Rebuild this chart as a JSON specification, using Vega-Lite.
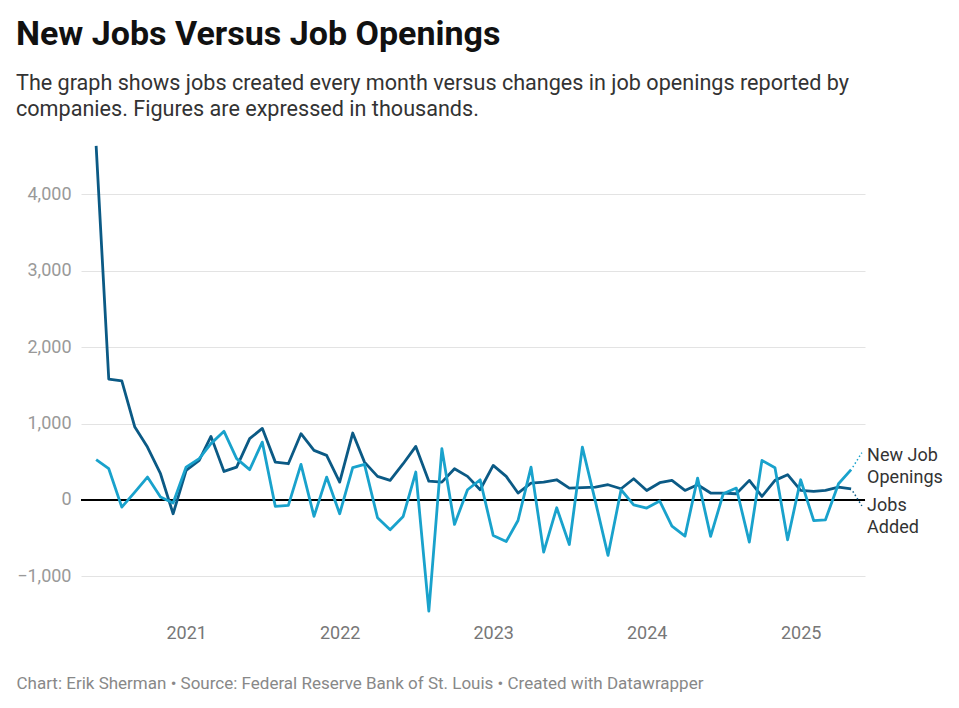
{
  "$schema": "https://vega.github.io/schema/vega-lite/v6.json",
  "width": 784,
  "height": 475,
  "autosize": {"type": "none"},
  "padding": {"left": 81, "top": 141, "right": 94, "bottom": 92},
  "background": "white",
  "title": {
    "text": "New Jobs Versus Job Openings",
    "subtitle": ["The graph shows jobs created every month versus changes in job openings reported by", "companies. Figures are expressed in thousands."],
    "anchor": "start",
    "frame": "group",
    "dx": -65,
    "offset": 20,
    "font": "Roboto",
    "fontSize": 34,
    "fontWeight": 700,
    "color": "#111111",
    "subtitleFont": "Roboto",
    "subtitleFontSize": 21.6,
    "subtitleColor": "#333333",
    "subtitleLineHeight": 26,
    "subtitlePadding": 21
  },
  "config": {"view": {"stroke": null}, "font": "Roboto"},
  "data": {
    "format": {"parse": {"date": "date"}},
    "values": [
      {"date": "2020-06-01", "Jobs Added": 4637, "New Job Openings": 527},
      {"date": "2020-07-01", "Jobs Added": 1583, "New Job Openings": 409},
      {"date": "2020-08-01", "Jobs Added": 1560, "New Job Openings": -94},
      {"date": "2020-09-01", "Jobs Added": 954, "New Job Openings": 102},
      {"date": "2020-10-01", "Jobs Added": 692, "New Job Openings": 299},
      {"date": "2020-11-01", "Jobs Added": 343, "New Job Openings": 37},
      {"date": "2020-12-01", "Jobs Added": -181, "New Job Openings": -40},
      {"date": "2021-01-01", "Jobs Added": 386, "New Job Openings": 430},
      {"date": "2021-02-01", "Jobs Added": 518, "New Job Openings": 540},
      {"date": "2021-03-01", "Jobs Added": 832, "New Job Openings": 737},
      {"date": "2021-04-01", "Jobs Added": 373, "New Job Openings": 898},
      {"date": "2021-05-01", "Jobs Added": 430, "New Job Openings": 540},
      {"date": "2021-06-01", "Jobs Added": 802, "New Job Openings": 396},
      {"date": "2021-07-01", "Jobs Added": 937, "New Job Openings": 757},
      {"date": "2021-08-01", "Jobs Added": 495, "New Job Openings": -85},
      {"date": "2021-09-01", "Jobs Added": 474, "New Job Openings": -72},
      {"date": "2021-10-01", "Jobs Added": 867, "New Job Openings": 465},
      {"date": "2021-11-01", "Jobs Added": 649, "New Job Openings": -216},
      {"date": "2021-12-01", "Jobs Added": 583, "New Job Openings": 299},
      {"date": "2022-01-01", "Jobs Added": 233, "New Job Openings": -181},
      {"date": "2022-02-01", "Jobs Added": 876, "New Job Openings": 422},
      {"date": "2022-03-01", "Jobs Added": 495, "New Job Openings": 465},
      {"date": "2022-04-01", "Jobs Added": 308, "New Job Openings": -233},
      {"date": "2022-05-01", "Jobs Added": 256, "New Job Openings": -391},
      {"date": "2022-06-01", "Jobs Added": 474, "New Job Openings": -216},
      {"date": "2022-07-01", "Jobs Added": 701, "New Job Openings": 365},
      {"date": "2022-08-01", "Jobs Added": 246, "New Job Openings": -1457},
      {"date": "2022-09-01", "Jobs Added": 233, "New Job Openings": 671},
      {"date": "2022-10-01", "Jobs Added": 409, "New Job Openings": -321},
      {"date": "2022-11-01", "Jobs Added": 308, "New Job Openings": 133},
      {"date": "2022-12-01", "Jobs Added": 133, "New Job Openings": 264},
      {"date": "2023-01-01", "Jobs Added": 452, "New Job Openings": -465},
      {"date": "2023-02-01", "Jobs Added": 308, "New Job Openings": -544},
      {"date": "2023-03-01", "Jobs Added": 90, "New Job Openings": -269},
      {"date": "2023-04-01", "Jobs Added": 221, "New Job Openings": 430},
      {"date": "2023-05-01", "Jobs Added": 233, "New Job Openings": -684},
      {"date": "2023-06-01", "Jobs Added": 264, "New Job Openings": -103},
      {"date": "2023-07-01", "Jobs Added": 155, "New Job Openings": -583},
      {"date": "2023-08-01", "Jobs Added": 160, "New Job Openings": 692},
      {"date": "2023-09-01", "Jobs Added": 168, "New Job Openings": -20},
      {"date": "2023-10-01", "Jobs Added": 199, "New Job Openings": -727},
      {"date": "2023-11-01", "Jobs Added": 146, "New Job Openings": 133},
      {"date": "2023-12-01", "Jobs Added": 277, "New Job Openings": -65},
      {"date": "2024-01-01", "Jobs Added": 124, "New Job Openings": -107},
      {"date": "2024-02-01", "Jobs Added": 225, "New Job Openings": -15},
      {"date": "2024-03-01", "Jobs Added": 256, "New Job Openings": -343},
      {"date": "2024-04-01", "Jobs Added": 124, "New Job Openings": -474},
      {"date": "2024-05-01", "Jobs Added": 199, "New Job Openings": 286},
      {"date": "2024-06-01", "Jobs Added": 90, "New Job Openings": -478},
      {"date": "2024-07-01", "Jobs Added": 90, "New Job Openings": 81},
      {"date": "2024-08-01", "Jobs Added": 81, "New Job Openings": 155},
      {"date": "2024-09-01", "Jobs Added": 256, "New Job Openings": -553},
      {"date": "2024-10-01", "Jobs Added": 46, "New Job Openings": 518},
      {"date": "2024-11-01", "Jobs Added": 256, "New Job Openings": 422},
      {"date": "2024-12-01", "Jobs Added": 330, "New Job Openings": -522},
      {"date": "2025-01-01", "Jobs Added": 124, "New Job Openings": 264},
      {"date": "2025-02-01", "Jobs Added": 111, "New Job Openings": -270},
      {"date": "2025-03-01", "Jobs Added": 124, "New Job Openings": -260},
      {"date": "2025-04-01", "Jobs Added": 168, "New Job Openings": 212},
      {"date": "2025-05-01", "Jobs Added": 146, "New Job Openings": 396}
    ]
  },
  "transform": [{"fold": ["Jobs Added", "New Job Openings"], "as": ["series", "value"]}],
  "encoding": {
    "x": {
      "field": "date",
      "type": "temporal",
      "scale": {"type": "utc", "domain": [{"year": 2020, "month": 4, "date": 26, "utc": true}, {"year": 2025, "month": 6, "date": 3, "utc": true}]},
      "axis": {
        "values": [{"year": 2021, "month": 1, "date": 1, "utc": true}, {"year": 2022, "month": 1, "date": 1, "utc": true}, {"year": 2023, "month": 1, "date": 1, "utc": true}, {"year": 2024, "month": 1, "date": 1, "utc": true}, {"year": 2025, "month": 1, "date": 1, "utc": true}],
        "format": "%Y",
        "formatType": "utc",
        "grid": false,
        "domain": false,
        "ticks": false,
        "labelFont": "Roboto",
        "labelFontSize": 18,
        "labelColor": "#777777",
        "labelPadding": 8,
        "title": "Chart: Erik Sherman • Source: Federal Reserve Bank of St. Louis • Created with Datawrapper",
        "titleFont": "Roboto",
        "titleFontSize": 17,
        "titleFontWeight": "normal",
        "titleColor": "#888888",
        "titleAlign": "left",
        "titleAnchor": "start",
        "titleBaseline": "middle",
        "titleX": -65,
        "titleY": 67
      }
    },
    "y": {
      "field": "value",
      "type": "quantitative",
      "scale": {"domain": [-1520, 4700], "nice": false, "zero": false},
      "axis": {
        "values": [-1000, 0, 1000, 2000, 3000, 4000],
        "format": ",.0f",
        "domain": false,
        "ticks": false,
        "grid": true,
        "gridColor": "#e3e3e3",
        "gridWidth": 1,
        "labelFont": "Roboto",
        "labelFontSize": 18,
        "labelColor": "#999999",
        "labelPadding": 10,
        "title": null
      }
    }
  },
  "layer": [
    {
      "mark": {"type": "rule", "color": "#000000", "strokeWidth": 1.2},
      "encoding": {"y": {"datum": 0}, "x": null}
    },
    {
      "mark": {"type": "line", "strokeWidth": 2.8, "strokeJoin": "round"},
      "encoding": {
        "color": {
          "field": "series",
          "type": "nominal",
          "scale": {"domain": ["Jobs Added", "New Job Openings"], "range": ["#0b5a85", "#19a2cc"]},
          "legend": null
        }
      }
    },
    {
      "transform": [{"filter": "utcyear(datum.date) == 2025 && utcmonth(datum.date) == 4 && datum.series == 'New Job Openings'"}],
      "mark": {"type": "point", "shape": "M0.1,-0.15L0.63,-1", "size": 1156, "filled": false, "stroke": "#19a2cc", "strokeWidth": 1.5, "strokeDash": [1.5, 2.5], "opacity": 1}
    },
    {
      "transform": [{"filter": "utcyear(datum.date) == 2025 && utcmonth(datum.date) == 4 && datum.series == 'Jobs Added'"}],
      "mark": {"type": "point", "shape": "M0.1,0.15L0.63,1", "size": 1156, "filled": false, "stroke": "#0b5a85", "strokeWidth": 1.5, "strokeDash": [1.5, 2.5], "opacity": 1}
    },
    {
      "transform": [{"filter": "utcyear(datum.date) == 2025 && utcmonth(datum.date) == 4 && datum.series == 'New Job Openings'"}],
      "mark": {"type": "text", "text": ["New Job", "Openings"], "align": "left", "baseline": "middle", "dx": 16, "dy": -14, "font": "Roboto", "fontSize": 18, "lineHeight": 22, "color": "#333333"}
    },
    {
      "transform": [{"filter": "utcyear(datum.date) == 2025 && utcmonth(datum.date) == 4 && datum.series == 'Jobs Added'"}],
      "mark": {"type": "text", "text": ["Jobs", "Added"], "align": "left", "baseline": "middle", "dx": 16, "dy": 17, "font": "Roboto", "fontSize": 18, "lineHeight": 22, "color": "#333333"}
    }
  ]
}
